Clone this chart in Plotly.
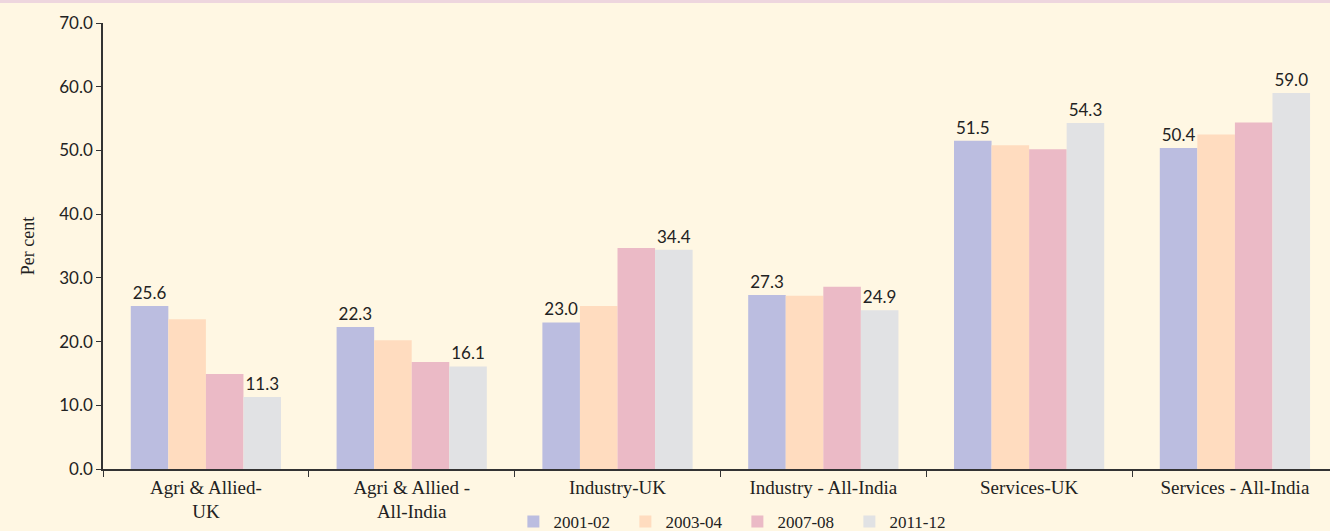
import plotly.graph_objects as go

categories = ["Agri & Allied-<br>UK", "Agri & Allied -<br>All-India", "Industry-UK",
              "Industry - All-India", "Services-UK", "Services - All-India"]
series_names = ["2001-02", "2003-04", "2007-08", "2011-12"]
v_2001_02 = [25.6, 22.3, 23.0, 27.3, 51.5, 50.4]
v_2003_04 = [23.5, 20.2, 25.6, 27.2, 50.8, 52.5]
v_2007_08 = [14.9, 16.8, 34.7, 28.6, 50.2, 54.4]
v_2011_12 = [11.3, 16.1, 34.4, 24.9, 54.3, 59.0]
labelled_series = ["2001-02", "2011-12"]
y_ticks = [0, 10, 20, 30, 40, 50, 60, 70]

values = [v_2001_02, v_2003_04, v_2007_08, v_2011_12]
colors = ["#BBBDE0", "#FFDCBF", "#EBBAC6", "#E1E2E4"]

num_font = "Lato, Noto Sans, sans-serif"
serif_font = "Liberation Serif, DejaVu Serif, serif"

fig = go.Figure()
for name, vals, col in zip(series_names, values, colors):
    txt = [f"{v:.1f}" for v in vals] if name in labelled_series else ["" for _ in vals]
    fig.add_trace(go.Bar(
        name=name, x=categories, y=vals, marker=dict(color=col, line=dict(width=0)),
        text=txt, textposition="outside", cliponaxis=False,
        textfont=dict(family=num_font, size=17, color="#222222"),
    ))

fig.update_layout(
    width=1330, height=531,
    margin=dict(l=103, r=0, t=23, b=62, autoexpand=False),
    paper_bgcolor="#FFF7E3", plot_bgcolor="#FFF7E3",
    barmode="group", bargap=0.27, bargroupgap=0,
    showlegend=True,
    legend=dict(orientation="h", xref="container", yref="container",
                x=0.386, xanchor="left", y=0.017, yanchor="middle",
                font=dict(family=serif_font, size=17, color="#222222"),
                entrywidth=67, entrywidthmode="pixels", itemsizing="constant",
                bgcolor="rgba(0,0,0,0)", traceorder="normal"),
    xaxis=dict(range=[-0.5, 5.462], showline=True, linecolor="#333333", linewidth=1.5,
               ticks="outside", tickson="boundaries", ticklen=6, tickcolor="#333333",
               tickfont=dict(family=serif_font, size=19, color="#222222"),
               showgrid=False, zeroline=False, automargin=False),
    yaxis=dict(range=[0, 70], tickvals=y_ticks, tickformat=".1f",
               showline=True, linecolor="#333333", linewidth=1.5,
               ticks="outside", ticklen=5, tickcolor="#333333",
               tickfont=dict(family=num_font, size=17, color="#222222"),
               showgrid=False, zeroline=False, automargin=False,
               title=dict(text="Per cent", standoff=20,
                          font=dict(family=serif_font, size=18, color="#222222"))),
    shapes=[dict(type="rect", xref="paper", yref="paper", x0=-0.1, x1=1.01,
                 y0=1 + 20 / 446, y1=1.06, fillcolor="#EED6DE", line=dict(width=0),
                 layer="above")],
)

fig.write_html(
    "out.html",
    config={"displayModeBar": False},
    post_script="document.body.style.margin='0';document.body.style.background='#FFF7E3';",
)
